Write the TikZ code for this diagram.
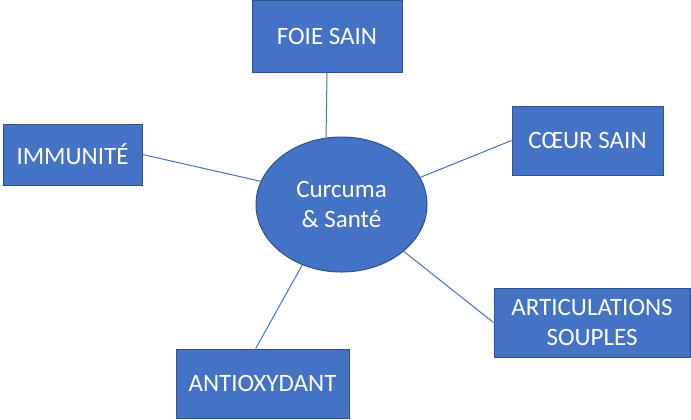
\documentclass[tikz,border=0pt]{standalone}
\usepackage{fontspec}
\setmainfont{Carlito}
\usetikzlibrary{shapes.geometric}
\definecolor{officeblue}{HTML}{4472C4}
\definecolor{officeedge}{HTML}{2F528F}

\begin{document}
\begin{tikzpicture}[x=0.75pt,y=-0.75pt,
	theme/.style={fill = officeblue, draw = officeedge, line width = 0.75pt, text = white, inner sep = 0pt, align = center, font = \fontsize{18.75pt}{22.5pt}\selectfont},
	link/.style={officeblue, line width = 0.75pt}]
		\useasboundingbox (0,0) rectangle (691,419);

		\node[theme,ellipse,minimum width = 128.25pt,minimum height = 101.25pt] at (341.5,204.5) (curcuma)
		{Curcuma\\\& Santé};

		\node[theme,rectangle,minimum width = 112.5pt,minimum height = 54pt] at (327,36) (foie)
		{FOIE SAIN};
		\node[theme,rectangle,minimum width = 104.25pt,minimum height = 45.75pt] at (72.5,154.5) (immunite)
		{IMMUNITÉ};
		\node[theme,rectangle,minimum width = 113.25pt,minimum height = 51.75pt] at (587.5,140.5) (coeur)
		{CŒUR SAIN};
		\node[theme,rectangle,minimum width = 129.75pt,minimum height = 51.75pt] at (262.5,383.5) (antiox)
		{ANTIOXYDANT};
		\node[theme,rectangle,minimum width = 147pt,minimum height = 51.75pt] at (592,322.5) (articul)
		{ARTICULATIONS\\SOUPLES};

		\draw[link] (foie.south) to (curcuma.103);
		\draw[link] (immunite.east) to (curcuma.164);
		\draw[link] (coeur.west) to (curcuma.19);
		\draw[link] (antiox.101) to (curcuma.237);
		\draw[link] (articul.west) to (curcuma.323);
	\end{tikzpicture}
\end{document}
